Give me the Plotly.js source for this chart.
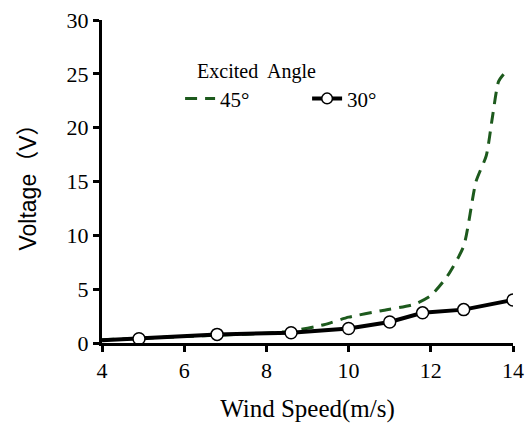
<!DOCTYPE html>
<html>
<head>
<meta charset="utf-8">
<script src="https://cdn.plot.ly/plotly-3.0.1.min.js"></script>
<style>html,body{margin:0;padding:0;background:#fff;}#chart{width:528px;height:426px;}</style>
</head>
<body>
<div id="chart"></div>
<script>
// 45° series (dashed green)
const speed45 = [4, 5, 6, 7, 8, 8.6, 9.4, 10, 10.8, 11.6, 12, 12.4, 12.8, 13.1, 13.35, 13.5, 13.65, 13.8];
const volt45  = [0.3, 0.45, 0.6, 0.75, 0.9, 1.1, 1.7, 2.4, 3.0, 3.6, 4.4, 6.2, 9.0, 15.0, 17.4, 21.0, 24.3, 25.1];
// 30° series (solid black with circles)
const speed30 = [4, 4.9, 6.8, 8.6, 10.0, 11.0, 11.8, 12.8, 14.0];
const volt30  = [0.25, 0.4, 0.8, 0.95, 1.35, 1.95, 2.8, 3.1, 4.0];
const markerSizes30 = [0, 12, 12, 12, 12, 12, 12, 12, 12];
const xTicks = [4, 6, 8, 10, 12, 14];
const yTicks = [0, 5, 10, 15, 20, 25, 30];

const serif = 'Liberation Serif, Times New Roman, serif';

const traces = [
  {
    x: speed45, y: volt45, name: '45°', type: 'scatter', mode: 'lines',
    line: {color: '#1d5a1d', width: 3, dash: '12px,8px', shape: 'spline', smoothing: 0.6}
  },
  {
    x: speed30, y: volt30, name: '30°', type: 'scatter', mode: 'lines+markers',
    line: {color: '#000', width: 4},
    marker: {size: markerSizes30, color: '#ffffff', opacity: 1, line: {color: '#000', width: 1.5}}
  }
];

const layout = {
  width: 528, height: 426,
  margin: {l: 102, r: 15, t: 20, b: 83},
  paper_bgcolor: '#fff', plot_bgcolor: '#fff',
  font: {family: serif, size: 20, color: '#000'},
  showlegend: true,
  legend: {
    orientation: 'h', x: 0.19, y: 0.9, xanchor: 'left', yanchor: 'top',
    title: {text: '\u00a0\u00a0\u00a0Excited  Angle', side: 'top', font: {family: serif, size: 20, color: '#000'}},
    font: {family: serif, size: 21, color: '#000'},
    bgcolor: 'rgba(0,0,0,0)', entrywidth: 82, entrywidthmode: 'pixels',
    tracegroupgap: 0
  },
  xaxis: {
    range: [4, 14], tickvals: xTicks, ticktext: xTicks.map(String),
    showgrid: false, zeroline: false,
    showline: true, linecolor: '#000', linewidth: 3,
    ticks: 'outside', ticklen: 6, tickwidth: 3, tickcolor: '#000',
    tickfont: {family: serif, size: 22, color: '#000'},
    title: {text: 'Wind Speed(m/s)\u00a0\u00a0\u00a0\u00a0\u00a0\u00a0', font: {family: serif, size: 25, color: '#000'}, standoff: 18}
  },
  yaxis: {
    range: [0, 30], tickvals: yTicks, ticktext: yTicks.map(String),
    showgrid: false, zeroline: false,
    showline: true, linecolor: '#000', linewidth: 3,
    ticks: 'outside', ticklen: 6, tickwidth: 3, tickcolor: '#000',
    tickfont: {family: serif, size: 22, color: '#000'},
    title: {text: 'Voltage（V）', font: {family: 'Liberation Sans, Noto Sans CJK SC, sans-serif', size: 23, color: '#000'}, standoff: 24}
  }
};

Plotly.newPlot('chart', traces, layout, {displayModeBar: false, staticPlot: true});
</script>
</body>
</html>
